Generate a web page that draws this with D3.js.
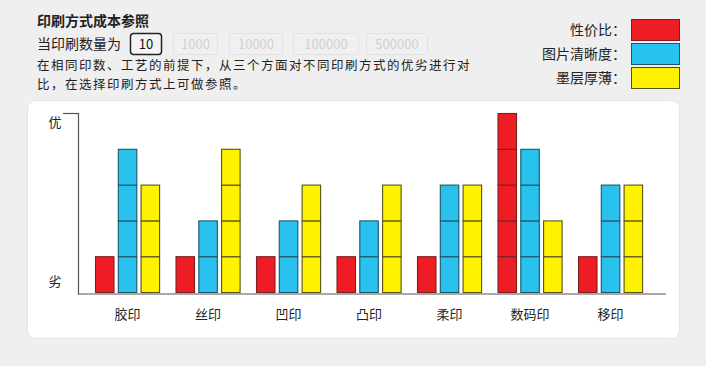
<!DOCTYPE html>
<html><head><meta charset="utf-8">
<script src="https://cdn.jsdelivr.net/npm/d3@7"></script>
<style>
html,body{margin:0;padding:0;background:#efefef;}
svg{display:block;font-family:"Noto Sans CJK SC","Noto Sans",sans-serif;}
</style></head>
<body>
<svg id="c" width="706" height="366"></svg>
<script>
const categories = ["胶印","丝印","凹印","凸印","柔印","数码印","移印"];
const seriesNames = ["性价比","图片清晰度","墨层厚薄"];
const costValues = [1,1,1,1,1,5,1];
const clarityValues = [4,2,2,2,3,4,3];
const inkValues = [3,4,3,3,3,2,3];
const seriesColors = ["#ee1c24","#29c2ee","#fff200"];
const seriesStroke = ["#7a2222","#1f5566","#5a5214"];
const quantityOptions = ["10","1000","10000","100000","500000"];
const yTickLabels = ["劣","优"];
const title = "印刷方式成本参照";

const svg = d3.select("#c");
// header
svg.append("text").attr("x",37).attr("y",26).attr("font-size",14).attr("font-weight","bold").attr("fill","#222").text(title);
svg.append("text").attr("x",37).attr("y",49).attr("font-size",14).attr("fill","#222").text("当印刷数量为");
const boxX = [130,173,229,293,366], boxW=[31,44,53,65,61];
quantityOptions.forEach((q,i)=>{
  const active = i===0;
  svg.append("rect").attr("x",boxX[i]+0.5).attr("y",33.5).attr("width",boxW[i]).attr("height",21).attr("rx",3)
    .attr("fill",active?"#f4f4f4":"#f0f0f0").attr("stroke",active?"#222":"#e2e2e2").attr("stroke-width",active?1.5:1);
  svg.append("text").attr("x",boxX[i]+boxW[i]/2+0.5).attr("y",49).attr("text-anchor","middle").attr("font-size",13)
    .attr("fill",active?"#111":"#d0d0d0").text(q);
});
svg.append("text").attr("x",37).attr("y",70).attr("font-size",12.5).attr("letter-spacing",1.5).attr("fill","#222").text("在相同印数、工艺的前提下，从三个方面对不同印刷方式的优劣进行对");
svg.append("text").attr("x",37).attr("y",88.5).attr("font-size",12.5).attr("letter-spacing",1.5).attr("fill","#222").text("比，在选择印刷方式上可做参照。");

// legend
seriesNames.forEach((s,i)=>{
  const y = 19 + i*24;
  svg.append("rect").attr("x",631.5).attr("y",y+0.5).attr("width",48).attr("height",21)
    .attr("fill",seriesColors[i]).attr("stroke",seriesStroke[i]).attr("stroke-width",1);
  svg.append("text").attr("x",626).attr("y",y+16).attr("text-anchor","end").attr("font-size",14).attr("fill","#222").text(s+"：");
});

// panel
svg.append("rect").attr("x",27.5).attr("y",100.5).attr("width",652).attr("height",238).attr("rx",8)
  .attr("fill","#fff").attr("stroke","#e4e4e4");

// scales
const x0 = d3.scaleBand().domain(categories).range([86, 86 + 80.5*7]).padding(0);
const x1 = d3.scaleBand().domain(seriesNames).range([9,9+22.8*3]).padding(0);
const y = d3.scaleLinear().domain([0,5]).range([292.5,113.5]);
const barW = 18.5;

const data = categories.map((c,i)=>({cat:c, vals:[costValues[i],clarityValues[i],inkValues[i]]}));
const g = svg.append("g");
data.forEach(d=>{
  d.vals.forEach((v,si)=>{
    const bx = x0(d.cat) + x1(seriesNames[si]);
    for(let k=0;k<v;k++){
      g.append("rect").attr("x",bx+0.5).attr("y",y(k+1)).attr("width",barW).attr("height",y(k)-y(k+1))
        .attr("fill",seriesColors[si]).attr("stroke",seriesStroke[si]).attr("stroke-width",1.1);
    }
  });
});

// axes
svg.append("line").attr("x1",78.5).attr("x2",78.5).attr("y1",113).attr("y2",294.5).attr("stroke","#555").attr("stroke-width",1.2);
svg.append("line").attr("x1",63).attr("x2",78.5).attr("y1",113.5).attr("y2",113.5).attr("stroke","#555").attr("stroke-width",1.2);
svg.append("line").attr("x1",78).attr("x2",666).attr("y1",294).attr("y2",294).attr("stroke","#555").attr("stroke-width",1.2);
svg.append("text").attr("x",55).attr("y",127).attr("text-anchor","middle").attr("font-size",13).attr("fill","#222").text(yTickLabels[1]);
svg.append("text").attr("x",55).attr("y",286).attr("text-anchor","middle").attr("font-size",13).attr("fill","#222").text(yTickLabels[0]);

categories.forEach(c=>{
  svg.append("text").attr("x",x0(c)+x1(seriesNames[1])+barW/2+0.5).attr("y",319).attr("text-anchor","middle")
    .attr("font-size",13).attr("fill","#222").text(c);
});
</script>
</body></html>
